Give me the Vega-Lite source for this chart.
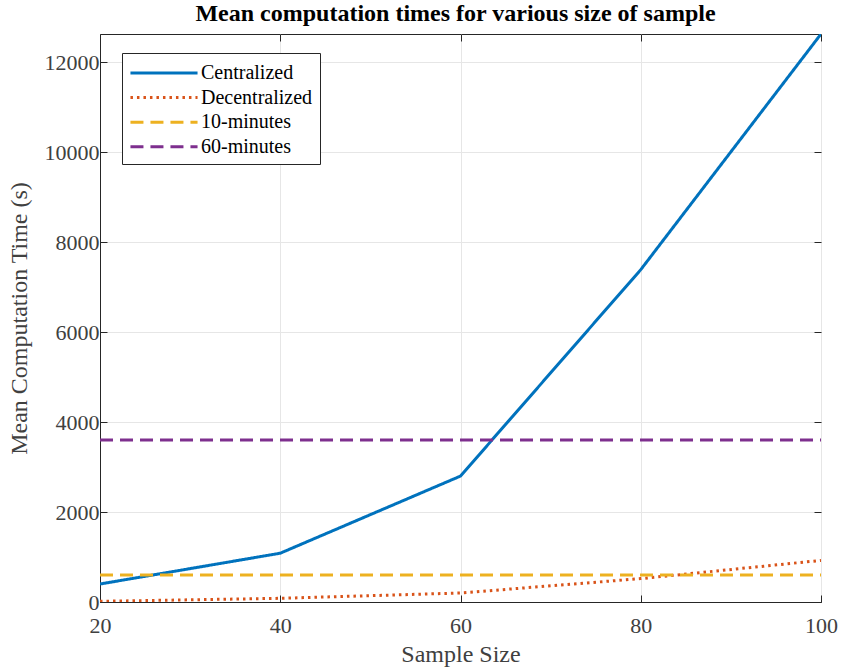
{
  "$schema": "https://vega.github.io/schema/vega-lite/v6.json",
  "width": 721,
  "height": 568,
  "autosize": {"type": "none"},
  "padding": {"left": 100, "top": 34, "right": 21, "bottom": 68},
  "background": "white",
  "title": {
    "text": "Mean computation times for various size of sample",
    "font": "Liberation Serif",
    "fontSize": 24,
    "fontWeight": "bold",
    "color": "#000000",
    "anchor": "middle",
    "dx": -5,
    "offset": 5
  },
  "config": {
    "view": {"stroke": "#262626", "strokeWidth": 1},
    "font": "Liberation Serif"
  },
  "data": {
    "values": [
      {"size": 20, "time": 400, "series": "Centralized"},
      {"size": 40, "time": 1085, "series": "Centralized"},
      {"size": 60, "time": 2800, "series": "Centralized"},
      {"size": 80, "time": 7390, "series": "Centralized"},
      {"size": 100, "time": 12630, "series": "Centralized"},
      {"size": 20, "time": 15, "series": "Decentralized"},
      {"size": 40, "time": 82, "series": "Decentralized"},
      {"size": 60, "time": 200, "series": "Decentralized"},
      {"size": 80, "time": 520, "series": "Decentralized"},
      {"size": 100, "time": 925, "series": "Decentralized"},
      {"size": 20, "time": 600, "series": "10-minutes"},
      {"size": 100, "time": 600, "series": "10-minutes"},
      {"size": 20, "time": 3600, "series": "60-minutes"},
      {"size": 100, "time": 3600, "series": "60-minutes"}
    ]
  },
  "resolve": {
    "scale": {"x": "independent", "y": "independent"},
    "axis": {"x": "independent", "y": "independent"}
  },
  "layer": [
    {
      "mark": {"type": "line", "strokeWidth": 3, "clip": true},
      "encoding": {
        "x": {
          "field": "size",
          "type": "quantitative",
          "scale": {"domain": [20, 100], "nice": false, "zero": false},
          "axis": {
            "title": "Sample Size",
            "values": [20, 40, 60, 80, 100],
            "format": "d",
            "labelFlush": false,
            "titleFont": "Liberation Serif",
            "titleFontSize": 24,
            "titleFontWeight": "normal",
            "titleColor": "#404040",
            "titlePadding": 6,
            "labelFont": "Liberation Serif",
            "labelFontSize": 22,
            "labelColor": "#404040",
            "labelPadding": 20,
            "tickSize": -7,
            "tickColor": "#262626",
            "domainColor": "#262626",
            "grid": true,
            "gridColor": "#e6e6e6",
            "gridWidth": 1
          }
        },
        "y": {
          "field": "time",
          "type": "quantitative",
          "scale": {"domain": [0, 12630], "nice": false},
          "axis": {
            "title": "Mean Computation Time (s)",
            "values": [0, 2000, 4000, 6000, 8000, 10000, 12000],
            "format": "d",
            "labelFlush": false,
            "titleFont": "Liberation Serif",
            "titleFontSize": 24,
            "titleFontWeight": "normal",
            "titleColor": "#404040",
            "titlePadding": 13,
            "labelFont": "Liberation Serif",
            "labelFontSize": 22,
            "labelColor": "#404040",
            "labelPadding": 8,
            "tickSize": -7,
            "tickColor": "#262626",
            "domainColor": "#262626",
            "grid": true,
            "gridColor": "#e6e6e6",
            "gridWidth": 1
          }
        },
        "color": {
          "field": "series",
          "type": "nominal",
          "sort": ["Centralized", "Decentralized", "10-minutes", "60-minutes"],
          "scale": {
            "domain": ["Centralized", "Decentralized", "10-minutes", "60-minutes"],
            "range": ["#0072BD", "#D95319", "#EDB120", "#7E2F8E"]
          },
          "legend": {
            "title": null,
            "orient": "none",
            "legendX": 22,
            "legendY": 19,
            "symbolType": "M-3,0H3",
            "symbolSize": 500,
            "symbolStrokeWidth": 3,
            "symbolOffset": 22,
            "labelOffset": 24,
            "labelFont": "Liberation Serif",
            "labelFontSize": 20,
            "labelColor": "#000000",
            "strokeColor": "#262626",
            "fillColor": "white",
            "padding": 7,
            "rowPadding": 1.6
          }
        },
        "strokeDash": {
          "field": "series",
          "type": "nominal",
          "sort": ["Centralized", "Decentralized", "10-minutes", "60-minutes"],
          "scale": {
            "domain": ["Centralized", "Decentralized", "10-minutes", "60-minutes"],
            "range": [[1, 0], [2.5, 4], [13, 7], [13, 7]]
          },
          "legend": null
        }
      }
    },
    {
      "mark": {"type": "point", "opacity": 0},
      "encoding": {
        "x": {
          "field": "size",
          "type": "quantitative",
          "scale": {"domain": [20, 100], "nice": false, "zero": false},
          "axis": {
            "orient": "top",
            "title": null,
            "values": [20, 40, 60, 80, 100],
            "labels": false,
            "grid": false,
            "domain": false,
            "tickSize": -7,
            "tickColor": "#262626"
          }
        },
        "y": {
          "field": "time",
          "type": "quantitative",
          "scale": {"domain": [0, 12630], "nice": false},
          "axis": {
            "orient": "right",
            "title": null,
            "values": [0, 2000, 4000, 6000, 8000, 10000, 12000],
            "labels": false,
            "grid": false,
            "domain": false,
            "tickSize": -7,
            "tickColor": "#262626"
          }
        }
      }
    }
  ]
}
